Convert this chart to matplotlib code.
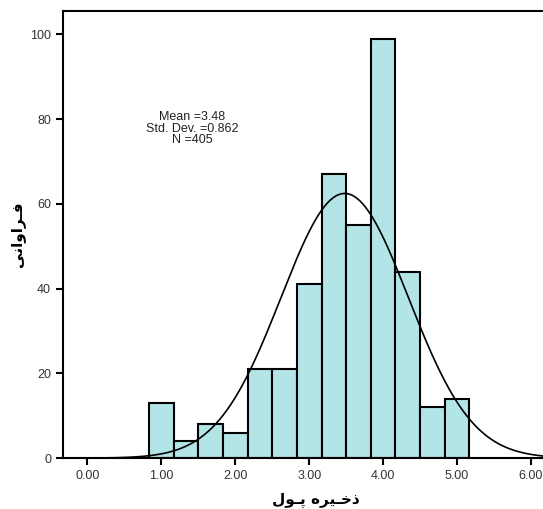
import numpy as np
import matplotlib
matplotlib.use("Agg")
from matplotlib import pyplot as plt

# histogram bins (width 1/3) and counts
bin_left = [0.8333, 1.1667, 1.5, 1.8333, 2.1667, 2.5, 2.8333, 3.1667, 3.5, 3.8333, 4.1667, 4.5, 4.8333]
counts = [13, 4, 8, 6, 21, 21, 41, 67, 55, 99, 44, 12, 14]
bin_width = 1.0 / 3
mean = 3.48
std = 0.862
n = 405

# Persian labels, written in presentation forms (visual order) so they join
xlabel = "\uFEDD\uFEEE\u0640\uFB58 \uFEE9\uFEAE\uFBFF\u0640\uFEA7\uFEAB"   # ذخـیره پـول
ylabel = "\uFBFD\uFEE7\uFE8D\uFEED\uFE8D\uFEAE\u0640\uFED3"               # فـراوانی

plt.rcParams['font.family'] = ['Liberation Sans', 'DejaVu Sans']

fig = plt.figure(figsize=(5.43, 5.09), dpi=100)
ax = fig.add_axes([0.116, 0.1, 0.93, 0.878])

ax.bar(bin_left, counts, width=bin_width, align='edge',
       color='#b3e4e6', edgecolor='black', linewidth=1.5, zorder=2)

xs = np.linspace(-0.4, 6.6, 400)
ys = n * bin_width * np.exp(-0.5 * ((xs - mean) / std) ** 2) / (std * np.sqrt(2 * np.pi))
ax.plot(xs, ys, color='black', linewidth=1.2, zorder=3)

ax.set_xlim(-0.33, 6.5)
ax.set_ylim(0, 105.5)
ax.set_xticks(range(7))
ax.set_xticklabels(["%.2f" % v for v in range(7)])
ax.set_yticks(range(0, 101, 20))
ax.tick_params(direction='out', length=5, width=1.5, labelsize=9, labelcolor='#333333')
for s in ax.spines.values():
    s.set_linewidth(1.5)

ax.text(1.42, 77.8, "Mean =%.2f\nStd. Dev. =%.3f\nN =%d" % (mean, std, n),
        ha='center', va='center', fontsize=9, color='#222222', linespacing=0.95)

ax.set_xlabel(xlabel, family=['DejaVu Sans'], fontweight='bold', fontsize=11, labelpad=8)
ax.set_ylabel(ylabel, family=['DejaVu Sans'], fontweight='bold', fontsize=11, labelpad=4)

fig.savefig("out.png", dpi=100)
